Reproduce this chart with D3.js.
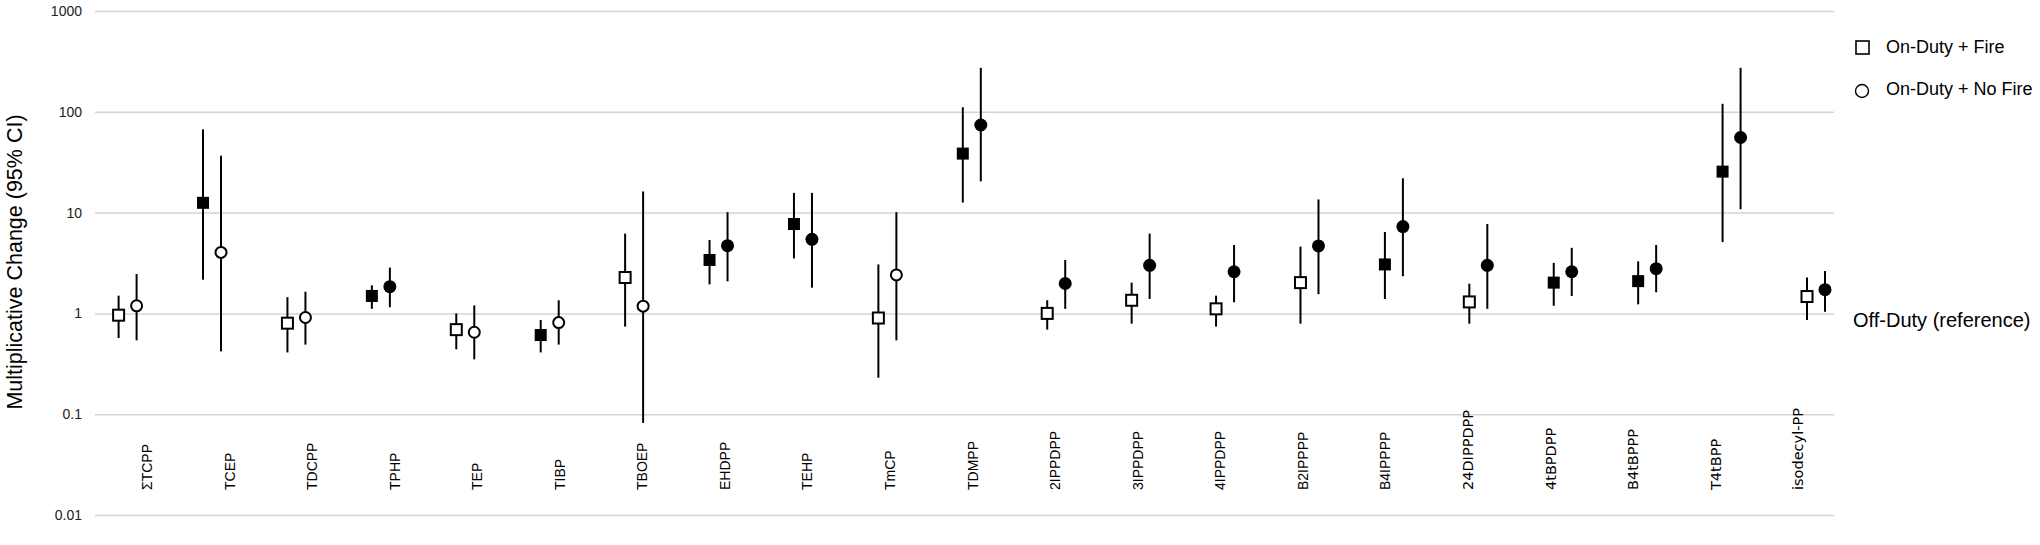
<!DOCTYPE html>
<html>
<head>
<meta charset="utf-8">
<script src="https://cdn.jsdelivr.net/npm/d3@7"></script>
<style>
  html, body { margin: 0; padding: 0; background: #fff; }
  text { font-family: "Liberation Sans", Arial, sans-serif; }
</style>
</head>
<body>
<svg id="chart" width="2040" height="545"></svg>
<script>
// compounds, left to right
const categories = ["ΣTCPP", "TCEP", "TDCPP", "TPHP", "TEP", "TIBP", "TBOEP", "EHDPP", "TEHP", "TmCP",
  "TDMPP", "2IPPDPP", "3IPPDPP", "4IPPDPP", "B2IPPPP", "B4IPPPP", "24DIPPDPP", "4tBPDPP", "B4tBPPP",
  "T4tBPP", "isodecyl-PP"];

// On-Duty + Fire (squares)
const fireEst = [0.96, 12.5, 0.80, 1.49, 0.69, 0.61, 2.27, 3.39, 7.7, 0.90, 38.5, 1.0, 1.35, 1.11, 2.02, 3.06, 1.30, 2.02, 2.09, 25.5, 1.47];
const fireLo  = [0.57, 2.16, 0.41, 1.11, 0.44, 0.41, 0.74, 1.94, 3.51, 0.23, 12.6, 0.69, 0.79, 0.74, 0.79, 1.39, 0.79, 1.19, 1.23, 5.1, 0.86];
const fireHi  = [1.50, 67, 1.45, 1.90, 1.0, 0.86, 6.19, 5.35, 15.7, 3.06, 111, 1.35, 2.02, 1.50, 4.6, 6.42, 1.97, 3.17, 3.29, 120, 2.27];
const fireSig = [0, 1, 0, 1, 0, 1, 0, 1, 1, 0, 1, 0, 0, 0, 0, 1, 0, 1, 1, 1, 0];

// On-Duty + No Fire (circles)
const noFireEst = [1.19, 4.03, 0.91, 1.84, 0.65, 0.81, 1.18, 4.70, 5.43, 2.41, 74, 1.98, 3.0, 2.59, 4.67, 7.27, 3.0, 2.59, 2.78, 55.6, 1.72];
const noFireLo  = [0.54, 0.42, 0.49, 1.15, 0.35, 0.49, 0.082, 2.08, 1.80, 0.54, 20.4, 1.11, 1.39, 1.29, 1.55, 2.34, 1.11, 1.49, 1.62, 10.8, 1.04];
const noFireHi  = [2.46, 36.7, 1.64, 2.85, 1.2, 1.35, 16.2, 10.1, 15.7, 10.1, 273, 3.39, 6.19, 4.77, 13.5, 21.9, 7.7, 4.47, 4.77, 273, 2.63];
const noFireSig = [0, 0, 0, 1, 0, 0, 0, 1, 1, 0, 1, 1, 1, 1, 1, 1, 1, 1, 1, 1, 1];

const yTicks = [0.01, 0.1, 1, 10, 100, 1000];

const svg = d3.select("#chart");

const y = d3.scaleLog().domain([0.01, 1000]).range([515, 11]);
const x = d3.scalePoint().domain(categories).range([127.6, 1816]);
// the category names sit on a slightly different spread than the markers
const xLabel = d3.scalePoint().domain(categories).range([147, 1798]);
const gridX0 = 95, gridX1 = 1834;
const off = 9;

// gridlines + tick labels
const yAxis = d3.axisLeft(y)
  .tickValues(yTicks)
  .tickFormat(d => String(d))
  .tickSize(-(gridX1 - gridX0))
  .tickPadding(13);

const gAxis = svg.append("g")
  .attr("transform", "translate(" + gridX0 + ",0)")
  .call(yAxis);
gAxis.select(".domain").remove();
gAxis.selectAll(".tick line")
  .attr("stroke", "#d4d4d4")
  .attr("stroke-width", 1.5);
gAxis.selectAll(".tick text")
  .attr("fill", "#222")
  .style("font-size", "14px")
  .style("font-family", "'Liberation Sans', Arial, sans-serif");

// y title
svg.append("text")
  .attr("transform", "translate(22,262) rotate(-90)")
  .attr("text-anchor", "middle")
  .style("font-size", "21.5px")
  .attr("fill", "#000")
  .text("Multiplicative Change (95% CI)");

// category labels, rotated
const altFont = new Set(["24DIPPDPP", "4tBPDPP", "B4tBPPP", "T4tBPP", "isodecyl-PP"]);
svg.append("g")
  .selectAll("text")
  .data(categories)
  .enter()
  .append("text")
  .attr("transform", d => "translate(" + xLabel(d) + ",490) rotate(-90)")
  .attr("dy", "0.36em")
  .attr("text-anchor", "start")
  .style("font-size", d => altFont.has(d) ? "14.5px" : "14px")
  .style("font-family", d => altFont.has(d) ? "'DejaVu Sans', Verdana, sans-serif" : "'Liberation Sans', Arial, sans-serif")
  .attr("fill", "#000")
  .text(d => d);

// build rows for the two series
const series = [
  { key: "fire", shape: "square", dx: -off, est: fireEst, lo: fireLo, hi: fireHi, sig: fireSig },
  { key: "nofire", shape: "circle", dx: off, est: noFireEst, lo: noFireLo, hi: noFireHi, sig: noFireSig }
];

series.forEach(function(s) {
  const rows = categories.map((c, i) => ({ c: c, est: s.est[i], lo: s.lo[i], hi: s.hi[i], sig: s.sig[i] }));
  const g = svg.append("g").attr("class", "series-" + s.key);

  // CI whiskers
  g.selectAll("line")
    .data(rows)
    .enter()
    .append("line")
    .attr("x1", d => x(d.c) + s.dx)
    .attr("x2", d => x(d.c) + s.dx)
    .attr("y1", d => y(d.lo))
    .attr("y2", d => y(d.hi))
    .attr("stroke", "#000")
    .attr("stroke-width", 2);

  if (s.shape == "square") {
    g.selectAll("rect")
      .data(rows)
      .enter()
      .append("rect")
      .attr("x", d => x(d.c) + s.dx - (d.sig ? 6 : 5.5))
      .attr("y", d => y(d.est) - (d.sig ? 6 : 5.5))
      .attr("width", d => d.sig ? 12 : 11)
      .attr("height", d => d.sig ? 12 : 11)
      .attr("fill", d => d.sig ? "#000" : "#fff")
      .attr("stroke", "#000")
      .attr("stroke-width", d => d.sig ? 0 : 2);
  } else {
    g.selectAll("circle")
      .data(rows)
      .enter()
      .append("circle")
      .attr("cx", d => x(d.c) + s.dx)
      .attr("cy", d => y(d.est))
      .attr("r", d => d.sig ? 6.5 : 5.5)
      .attr("fill", d => d.sig ? "#000" : "#fff")
      .attr("stroke", "#000")
      .attr("stroke-width", d => d.sig ? 0 : 2);
  }
});

// reference label at y = 1
svg.append("text")
  .attr("x", 1853)
  .attr("y", y(1) + 14)
  .style("font-size", "20px")
  .attr("fill", "#000")
  .text("Off-Duty (reference)");

// legend
const legend = svg.append("g");
legend.append("rect")
  .attr("x", 1856).attr("y", 41)
  .attr("width", 13).attr("height", 13)
  .attr("fill", "#fff").attr("stroke", "#000").attr("stroke-width", 1.6);
legend.append("text")
  .attr("x", 1886).attr("y", 47)
  .attr("dy", "0.35em")
  .style("font-size", "18px")
  .text("On-Duty + Fire");
legend.append("circle")
  .attr("cx", 1862).attr("cy", 91).attr("r", 6.5)
  .attr("fill", "#fff").attr("stroke", "#000").attr("stroke-width", 1.4);
legend.append("text")
  .attr("x", 1886).attr("y", 89)
  .attr("dy", "0.35em")
  .style("font-size", "18px")
  .text("On-Duty + No Fire");
</script>
</body>
</html>
